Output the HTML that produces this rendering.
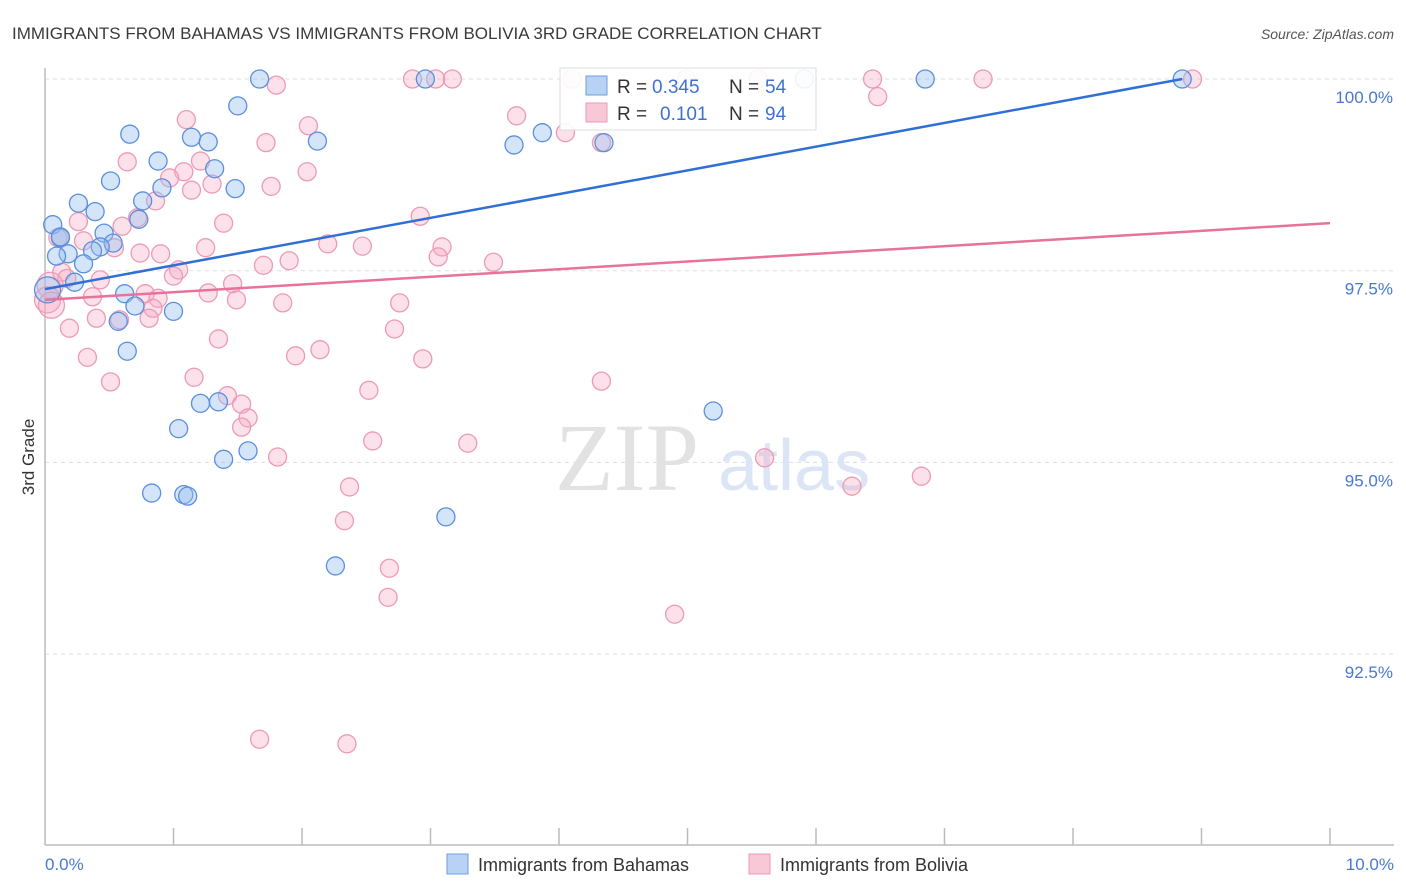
<!DOCTYPE html>
<html><head><meta charset="utf-8"><style>
body{margin:0;background:#fff;font-family:"Liberation Sans",sans-serif;}
#wrap{position:relative;width:1406px;height:892px;overflow:hidden;}
</style></head><body>
<div id="wrap">
<svg id="svg" width="1406" height="892"></svg>
</div>
<script>
const blueX=[1.67,2.96,5.91,6.85,8.85,1.50,0.66,1.14,1.27,2.12,3.65,3.87,4.35,0.88,1.32,0.51,0.91,1.48,0.76,0.26,0.39,0.73,0.06,0.12,0.46,0.53,0.43,0.18,0.09,0.37,0.30,0.23,0.02,0.62,0.70,1.00,0.57,0.64,1.21,1.35,5.20,1.04,1.39,1.58,0.83,1.08,1.11,3.12,2.26,0.12];
const blueY=[100,100,100,100,100,99.65,99.28,99.24,99.18,99.19,99.14,99.30,99.17,98.93,98.83,98.67,98.58,98.57,98.41,98.38,98.27,98.17,98.10,97.93,97.99,97.86,97.81,97.72,97.69,97.76,97.59,97.35,97.25,97.20,97.04,96.97,96.84,96.45,95.77,95.79,95.67,95.44,95.04,95.15,94.60,94.58,94.56,94.29,93.65,97.94];
const pinkX=[1.80,2.86,3.04,3.17,4.10,4.99,5.55,6.44,7.30,8.93,6.48,3.67,1.10,2.05,4.05,1.72,4.33,1.21,0.64,1.08,2.04,0.97,1.30,1.14,1.76,0.86,2.92,0.26,1.39,0.60,0.72,0.10,0.30,2.20,2.47,3.09,1.25,0.54,0.74,0.90,3.06,1.90,1.70,3.49,1.04,0.13,1.00,0.17,1.46,0.43,0.04,0.37,1.27,0.78,0.88,1.49,1.85,2.76,0.02,0.84,0.40,0.81,2.72,0.19,0.58,1.35,2.14,1.95,0.33,2.94,1.16,0.51,4.33,2.52,1.42,1.53,1.58,1.53,2.55,3.29,1.81,5.60,2.37,6.28,6.82,2.33,2.68,2.67,4.90,1.67,2.35,0.05];
const pinkY=[99.92,100,100,100,100,100,100,100,100,100,99.77,99.52,99.47,99.39,99.30,99.17,99.17,98.93,98.92,98.79,98.79,98.71,98.63,98.55,98.60,98.41,98.21,98.14,98.12,98.08,98.19,97.93,97.89,97.85,97.82,97.81,97.80,97.80,97.73,97.72,97.68,97.63,97.57,97.61,97.51,97.48,97.43,97.40,97.33,97.38,97.31,97.16,97.21,97.20,97.14,97.12,97.08,97.08,97.12,97.01,96.88,96.88,96.74,96.75,96.86,96.61,96.47,96.39,96.37,96.35,96.11,96.05,96.06,95.94,95.87,95.76,95.58,95.46,95.28,95.25,95.07,95.06,94.68,94.69,94.82,94.24,93.62,93.24,93.02,91.39,91.33,97.05];
const blueTrendX=[0,8.85], blueTrendY=[97.26,100];
const pinkTrendX=[0,10], pinkTrendY=[97.12,98.12];
const yTicks=[100,97.5,95,92.5];
const yTickLabels=["100.0%","97.5%","95.0%","92.5%"];

const X0=45,X1=1330,Y100=79,PXPER=76.68;
const sx=v=>X0+(v/10)*(X1-X0);
const sy=v=>Y100+(100-v)*PXPER;
const svg=document.getElementById('svg');
const NS='http://www.w3.org/2000/svg';
function mk(tag,attrs,parent){const e=document.createElementNS(NS,tag);for(const k in attrs)e.setAttribute(k,attrs[k]);(parent||svg).appendChild(e);return e;}
function txt(x,y,s,attrs){const t=mk('text',Object.assign({x:x,y:y},attrs));t.textContent=s;return t;}

// title
let t=txt(12,39,"IMMIGRANTS FROM BAHAMAS VS IMMIGRANTS FROM BOLIVIA 3RD GRADE CORRELATION CHART",{fill:'#3a3a3a','font-size':17});


t=txt(1394,39,"Source: ZipAtlas.com",{fill:'#555','font-size':14,'font-style':'italic','text-anchor':'end'});



// gridlines & y ticks
yTicks.forEach((v,i)=>{
  const l=mk('line',{x1:X0,x2:1394,y1:sy(v),y2:sy(v),stroke:'#ddd','stroke-dasharray':'4,4'});
  
  
  const tt=txt(1393,sy(v)+24,yTickLabels[i],{fill:'#4a78d0','font-size':17,'text-anchor':'end'});
  
  
});
// axes
let a=mk('line',{x1:X0,x2:X0,y1:68,y2:845,stroke:'#bbb','stroke-width':1.5});


a=mk('line',{x1:X0,x2:1394,y1:845,y2:845,stroke:'#bbb','stroke-width':1.5});


for(let i=1;i<=10;i++){const k=mk('line',{x1:sx(i),x2:sx(i),y1:828,y2:845,stroke:'#bbb','stroke-width':1.5});

}
t=txt(45,870,"0.0%",{fill:'#4a78d0','font-size':17});


t=txt(1394,870,"10.0%",{fill:'#4a78d0','font-size':17,'text-anchor':'end'});


t=txt(34,457,"3rd Grade",{fill:'#333','font-size':17,'text-anchor':'middle',transform:'rotate(-90 34 457)'});



// watermark
t=txt(555,490,"ZIP",{fill:'#e2e2e2','font-size':96,'font-family':'Liberation Serif, serif'});


t=txt(718,490,"atlas",{fill:'#dbe5f5','font-size':72});



// points
pinkX.forEach((v,i)=>{const c=mk('circle',{cx:sx(v),cy:sy(pinkY[i]),r:(v<0.06?13:9),fill:'rgba(246,170,195,0.35)',stroke:'#ec9ab5','stroke-width':1.3});

});
blueX.forEach((v,i)=>{const c=mk('circle',{cx:sx(v),cy:sy(blueY[i]),r:(v<0.03?13:9),fill:'rgba(150,190,240,0.4)',stroke:'#5b8fdc','stroke-width':1.3});

});

// trend lines
let tl=mk('line',{x1:sx(blueTrendX[0]),y1:sy(blueTrendY[0]),x2:sx(blueTrendX[1]),y2:sy(blueTrendY[1]),stroke:'#2f6fd6','stroke-width':2.5});


tl=mk('line',{x1:sx(pinkTrendX[0]),y1:sy(pinkTrendY[0]),x2:sx(pinkTrendX[1]),y2:sy(pinkTrendY[1]),stroke:'#e8729a','stroke-width':2.5});



// stats legend box
const g=mk('g',{});


mk('rect',{x:560,y:68,width:256,height:62,fill:'rgba(255,255,255,0.9)',stroke:'#ddd'},g);
mk('rect',{x:586,y:76,width:21,height:19,fill:'#b8d2f6',stroke:'#6d9de0'},g);
mk('rect',{x:586,y:103,width:21,height:19,fill:'#f9c8d7',stroke:'#ee9ab6'},g);
[["R = ",617,93,'#333'],["0.345",652,93,'#3f72cf'],["N = ",729,93,'#333'],["54",765,93,'#3f72cf'],
 ["R = ",617,120,'#333'],["0.101",660,120,'#3f72cf'],["N = ",729,120,'#333'],["94",765,120,'#3f72cf']].forEach(d=>{
  const e=txt(d[1],d[2],d[0],{fill:d[3],'font-size':19}); g.appendChild(e);
  
  
});

// bottom legend
const lg=mk('g',{});


let r=mk('rect',{x:447,y:854,width:21,height:20,fill:'#b8d2f6',stroke:'#6d9de0'},lg);


t=txt(478,871,"Immigrants from Bahamas",{fill:'#333','font-size':18}); lg.appendChild(t);


r=mk('rect',{x:749,y:854,width:21,height:20,fill:'#f9c8d7',stroke:'#ee9ab6'},lg);


t=txt(780,871,"Immigrants from Bolivia",{fill:'#333','font-size':18}); lg.appendChild(t);


</script>
</body></html>
